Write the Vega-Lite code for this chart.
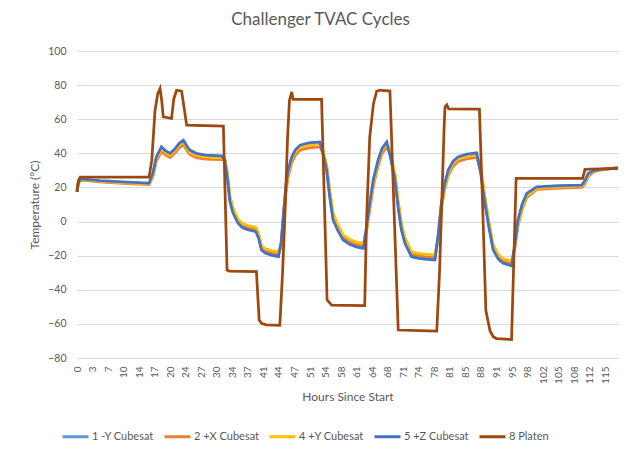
{
  "$schema": "https://vega.github.io/schema/vega-lite/v6.json",
  "width": 541,
  "height": 307,
  "autosize": "none",
  "padding": {"left": 77, "top": 51, "right": 7, "bottom": 93},
  "background": "white",
  "title": {"text": "Challenger TVAC Cycles", "font": "Lato", "fontSize": 17, "fontWeight": "normal", "color": "#595959", "anchor": "middle", "dx": -27, "offset": 17},
  "config": {"view": {"stroke": null}, "font": "Lato"},
  "datasets": {
    "cube": [
      {"h":0,"1 -Y Cubesat":17.5,"2 +X Cubesat":17.5,"4 +Y Cubesat":17.5,"5 +Z Cubesat":17.5},
      {"h":0.3,"1 -Y Cubesat":23,"2 +X Cubesat":22.5,"4 +Y Cubesat":22.8,"5 +Z Cubesat":23},
      {"h":0.8,"1 -Y Cubesat":24.7,"2 +X Cubesat":24.3,"4 +Y Cubesat":24.6,"5 +Z Cubesat":25},
      {"h":5,"1 -Y Cubesat":23.7,"2 +X Cubesat":23.2,"4 +Y Cubesat":23.6,"5 +Z Cubesat":24},
      {"h":10,"1 -Y Cubesat":22.9,"2 +X Cubesat":22.4,"4 +Y Cubesat":22.8,"5 +Z Cubesat":23.2},
      {"h":15.7,"1 -Y Cubesat":22.2,"2 +X Cubesat":21.7,"4 +Y Cubesat":22.1,"5 +Z Cubesat":22.5},
      {"h":16.5,"1 -Y Cubesat":27.5,"2 +X Cubesat":26,"4 +Y Cubesat":26.5,"5 +Z Cubesat":28},
      {"h":17.3,"1 -Y Cubesat":37.3,"2 +X Cubesat":35.5,"4 +Y Cubesat":36.8,"5 +Z Cubesat":38},
      {"h":18.4,"1 -Y Cubesat":43,"2 +X Cubesat":41,"4 +Y Cubesat":42.6,"5 +Z Cubesat":43.8},
      {"h":19.3,"1 -Y Cubesat":40.8,"2 +X Cubesat":39,"4 +Y Cubesat":40.3,"5 +Z Cubesat":41.5},
      {"h":20.3,"1 -Y Cubesat":39.3,"2 +X Cubesat":37.5,"4 +Y Cubesat":38.8,"5 +Z Cubesat":40},
      {"h":21.3,"1 -Y Cubesat":41.8,"2 +X Cubesat":40,"4 +Y Cubesat":41.3,"5 +Z Cubesat":42.5},
      {"h":22.3,"1 -Y Cubesat":45.2,"2 +X Cubesat":43.2,"4 +Y Cubesat":44.8,"5 +Z Cubesat":46},
      {"h":23.2,"1 -Y Cubesat":46.9,"2 +X Cubesat":45,"4 +Y Cubesat":46.5,"5 +Z Cubesat":47.7},
      {"h":24,"1 -Y Cubesat":43.3,"2 +X Cubesat":41.5,"4 +Y Cubesat":42.8,"5 +Z Cubesat":44},
      {"h":24.6,"1 -Y Cubesat":41.1,"2 +X Cubesat":39.3,"4 +Y Cubesat":40.7,"5 +Z Cubesat":41.9},
      {"h":26,"1 -Y Cubesat":39.3,"2 +X Cubesat":37.5,"4 +Y Cubesat":38.8,"5 +Z Cubesat":40},
      {"h":28,"1 -Y Cubesat":38.3,"2 +X Cubesat":36.6,"4 +Y Cubesat":37.8,"5 +Z Cubesat":39},
      {"h":31.5,"1 -Y Cubesat":37.8,"2 +X Cubesat":36.3,"4 +Y Cubesat":37.3,"5 +Z Cubesat":38.5},
      {"h":32.2,"1 -Y Cubesat":35.6,"2 +X Cubesat":36.5,"4 +Y Cubesat":37,"5 +Z Cubesat":36},
      {"h":32.8,"1 -Y Cubesat":25.5,"2 +X Cubesat":27,"4 +Y Cubesat":28,"5 +Z Cubesat":25},
      {"h":33.3,"1 -Y Cubesat":12.8,"2 +X Cubesat":14.5,"4 +Y Cubesat":15.5,"5 +Z Cubesat":12},
      {"h":34,"1 -Y Cubesat":5.6,"2 +X Cubesat":7,"4 +Y Cubesat":8,"5 +Z Cubesat":5},
      {"h":35.1,"1 -Y Cubesat":-0.5,"2 +X Cubesat":0.5,"4 +Y Cubesat":1.5,"5 +Z Cubesat":-1},
      {"h":36,"1 -Y Cubesat":-3,"2 +X Cubesat":-2,"4 +Y Cubesat":-1,"5 +Z Cubesat":-3.5},
      {"h":37,"1 -Y Cubesat":-4.1,"2 +X Cubesat":-3.2,"4 +Y Cubesat":-2.2,"5 +Z Cubesat":-4.6},
      {"h":39,"1 -Y Cubesat":-5.5,"2 +X Cubesat":-4.6,"4 +Y Cubesat":-3.4,"5 +Z Cubesat":-6},
      {"h":39.6,"1 -Y Cubesat":-9.3,"2 +X Cubesat":-8,"4 +Y Cubesat":-7,"5 +Z Cubesat":-10},
      {"h":40.2,"1 -Y Cubesat":-16,"2 +X Cubesat":-15,"4 +Y Cubesat":-14,"5 +Z Cubesat":-16.7},
      {"h":41,"1 -Y Cubesat":-18,"2 +X Cubesat":-17,"4 +Y Cubesat":-16,"5 +Z Cubesat":-18.5},
      {"h":42.5,"1 -Y Cubesat":-19.3,"2 +X Cubesat":-18.3,"4 +Y Cubesat":-17,"5 +Z Cubesat":-19.8},
      {"h":43.9,"1 -Y Cubesat":-20.1,"2 +X Cubesat":-19.1,"4 +Y Cubesat":-17.8,"5 +Z Cubesat":-20.6},
      {"h":44.5,"1 -Y Cubesat":-12.5,"2 +X Cubesat":-14,"4 +Y Cubesat":-13.5,"5 +Z Cubesat":-12},
      {"h":45,"1 -Y Cubesat":4,"2 +X Cubesat":1,"4 +Y Cubesat":2,"5 +Z Cubesat":5},
      {"h":45.5,"1 -Y Cubesat":19.5,"2 +X Cubesat":16,"4 +Y Cubesat":17.5,"5 +Z Cubesat":20.4},
      {"h":46,"1 -Y Cubesat":29,"2 +X Cubesat":26,"4 +Y Cubesat":27.5,"5 +Z Cubesat":30},
      {"h":46.8,"1 -Y Cubesat":37,"2 +X Cubesat":34.5,"4 +Y Cubesat":36.8,"5 +Z Cubesat":38},
      {"h":47.6,"1 -Y Cubesat":41.2,"2 +X Cubesat":39,"4 +Y Cubesat":40.8,"5 +Z Cubesat":42},
      {"h":48.6,"1 -Y Cubesat":44,"2 +X Cubesat":41.8,"4 +Y Cubesat":43.6,"5 +Z Cubesat":44.8},
      {"h":50.5,"1 -Y Cubesat":45.4,"2 +X Cubesat":43.2,"4 +Y Cubesat":45,"5 +Z Cubesat":46.2},
      {"h":52.9,"1 -Y Cubesat":45.9,"2 +X Cubesat":43.8,"4 +Y Cubesat":45.5,"5 +Z Cubesat":46.7},
      {"h":53.6,"1 -Y Cubesat":39.8,"2 +X Cubesat":40.5,"4 +Y Cubesat":41.5,"5 +Z Cubesat":40},
      {"h":54.4,"1 -Y Cubesat":30.8,"2 +X Cubesat":32.5,"4 +Y Cubesat":33.5,"5 +Z Cubesat":30.2},
      {"h":55.1,"1 -Y Cubesat":15,"2 +X Cubesat":17,"4 +Y Cubesat":18,"5 +Z Cubesat":14},
      {"h":55.8,"1 -Y Cubesat":2,"2 +X Cubesat":4,"4 +Y Cubesat":5,"5 +Z Cubesat":1},
      {"h":56.8,"1 -Y Cubesat":-4.3,"2 +X Cubesat":-2.5,"4 +Y Cubesat":-1.5,"5 +Z Cubesat":-5},
      {"h":58,"1 -Y Cubesat":-10.2,"2 +X Cubesat":-9,"4 +Y Cubesat":-7.8,"5 +Z Cubesat":-10.8},
      {"h":59.5,"1 -Y Cubesat":-13,"2 +X Cubesat":-12,"4 +Y Cubesat":-10.6,"5 +Z Cubesat":-13.5},
      {"h":61,"1 -Y Cubesat":-14.5,"2 +X Cubesat":-13.5,"4 +Y Cubesat":-12.2,"5 +Z Cubesat":-15},
      {"h":62.4,"1 -Y Cubesat":-15.2,"2 +X Cubesat":-14.2,"4 +Y Cubesat":-12.8,"5 +Z Cubesat":-15.7},
      {"h":63.1,"1 -Y Cubesat":-3.5,"2 +X Cubesat":-5.5,"4 +Y Cubesat":-5,"5 +Z Cubesat":-3},
      {"h":63.8,"1 -Y Cubesat":9.8,"2 +X Cubesat":7,"4 +Y Cubesat":8,"5 +Z Cubesat":10.7},
      {"h":64.6,"1 -Y Cubesat":24,"2 +X Cubesat":21,"4 +Y Cubesat":22.5,"5 +Z Cubesat":25},
      {"h":65.6,"1 -Y Cubesat":35,"2 +X Cubesat":32.5,"4 +Y Cubesat":34.8,"5 +Z Cubesat":36},
      {"h":66.5,"1 -Y Cubesat":42.2,"2 +X Cubesat":40,"4 +Y Cubesat":41.8,"5 +Z Cubesat":43},
      {"h":67.5,"1 -Y Cubesat":45.9,"2 +X Cubesat":43.8,"4 +Y Cubesat":45.5,"5 +Z Cubesat":46.7},
      {"h":68.3,"1 -Y Cubesat":38,"2 +X Cubesat":39.5,"4 +Y Cubesat":40,"5 +Z Cubesat":38},
      {"h":69.3,"1 -Y Cubesat":25,"2 +X Cubesat":27,"4 +Y Cubesat":28,"5 +Z Cubesat":24.3},
      {"h":70,"1 -Y Cubesat":9,"2 +X Cubesat":11,"4 +Y Cubesat":12,"5 +Z Cubesat":8},
      {"h":70.7,"1 -Y Cubesat":-4.2,"2 +X Cubesat":-2,"4 +Y Cubesat":-1,"5 +Z Cubesat":-5},
      {"h":71.5,"1 -Y Cubesat":-12.3,"2 +X Cubesat":-10.5,"4 +Y Cubesat":-9.5,"5 +Z Cubesat":-13},
      {"h":72.9,"1 -Y Cubesat":-20,"2 +X Cubesat":-18.8,"4 +Y Cubesat":-17.8,"5 +Z Cubesat":-20.6},
      {"h":74.7,"1 -Y Cubesat":-21.2,"2 +X Cubesat":-20.2,"4 +Y Cubesat":-18.8,"5 +Z Cubesat":-21.7},
      {"h":78,"1 -Y Cubesat":-22.1,"2 +X Cubesat":-21.1,"4 +Y Cubesat":-19.6,"5 +Z Cubesat":-22.6},
      {"h":78.7,"1 -Y Cubesat":-8.5,"2 +X Cubesat":-10.5,"4 +Y Cubesat":-10,"5 +Z Cubesat":-8},
      {"h":79.4,"1 -Y Cubesat":9.8,"2 +X Cubesat":7,"4 +Y Cubesat":8,"5 +Z Cubesat":10.7},
      {"h":80.1,"1 -Y Cubesat":21,"2 +X Cubesat":18.5,"4 +Y Cubesat":19.5,"5 +Z Cubesat":22},
      {"h":80.9,"1 -Y Cubesat":29.3,"2 +X Cubesat":27,"4 +Y Cubesat":28,"5 +Z Cubesat":30.2},
      {"h":82,"1 -Y Cubesat":34.7,"2 +X Cubesat":32.5,"4 +Y Cubesat":34.3,"5 +Z Cubesat":35.5},
      {"h":83.1,"1 -Y Cubesat":37.2,"2 +X Cubesat":35.2,"4 +Y Cubesat":36.8,"5 +Z Cubesat":38},
      {"h":85,"1 -Y Cubesat":38.7,"2 +X Cubesat":36.8,"4 +Y Cubesat":38.3,"5 +Z Cubesat":39.5},
      {"h":87.1,"1 -Y Cubesat":39.5,"2 +X Cubesat":37.6,"4 +Y Cubesat":39.1,"5 +Z Cubesat":40.3},
      {"h":88,"1 -Y Cubesat":28.5,"2 +X Cubesat":30,"4 +Y Cubesat":31,"5 +Z Cubesat":28},
      {"h":88.9,"1 -Y Cubesat":11.5,"2 +X Cubesat":13.5,"4 +Y Cubesat":14.5,"5 +Z Cubesat":10.7},
      {"h":89.8,"1 -Y Cubesat":-3.2,"2 +X Cubesat":-1.5,"4 +Y Cubesat":-0.5,"5 +Z Cubesat":-4},
      {"h":90.7,"1 -Y Cubesat":-16,"2 +X Cubesat":-14.5,"4 +Y Cubesat":-13.5,"5 +Z Cubesat":-16.7},
      {"h":91.8,"1 -Y Cubesat":-21.4,"2 +X Cubesat":-20.2,"4 +Y Cubesat":-19.2,"5 +Z Cubesat":-22},
      {"h":92.9,"1 -Y Cubesat":-24,"2 +X Cubesat":-23,"4 +Y Cubesat":-21.8,"5 +Z Cubesat":-24.5},
      {"h":94.7,"1 -Y Cubesat":-25.5,"2 +X Cubesat":-24.5,"4 +Y Cubesat":-23.2,"5 +Z Cubesat":-26},
      {"h":95.4,"1 -Y Cubesat":-14.5,"2 +X Cubesat":-16,"4 +Y Cubesat":-15.5,"5 +Z Cubesat":-14},
      {"h":96.1,"1 -Y Cubesat":0,"2 +X Cubesat":-2.5,"4 +Y Cubesat":-1.5,"5 +Z Cubesat":0.9},
      {"h":97,"1 -Y Cubesat":9.2,"2 +X Cubesat":7,"4 +Y Cubesat":8,"5 +Z Cubesat":10},
      {"h":98,"1 -Y Cubesat":15.8,"2 +X Cubesat":14,"4 +Y Cubesat":15,"5 +Z Cubesat":16.5},
      {"h":100.2,"1 -Y Cubesat":19.9,"2 +X Cubesat":18.8,"4 +Y Cubesat":19.5,"5 +Z Cubesat":20.4},
      {"h":105,"1 -Y Cubesat":20.6,"2 +X Cubesat":19.6,"4 +Y Cubesat":20.3,"5 +Z Cubesat":21},
      {"h":110,"1 -Y Cubesat":21,"2 +X Cubesat":20,"4 +Y Cubesat":20.7,"5 +Z Cubesat":21.4},
      {"h":110.7,"1 -Y Cubesat":23.5,"2 +X Cubesat":22,"4 +Y Cubesat":23,"5 +Z Cubesat":24},
      {"h":111.4,"1 -Y Cubesat":27.7,"2 +X Cubesat":26.5,"4 +Y Cubesat":27.3,"5 +Z Cubesat":28.2},
      {"h":112.5,"1 -Y Cubesat":29.5,"2 +X Cubesat":29,"4 +Y Cubesat":29.4,"5 +Z Cubesat":29.8},
      {"h":114,"1 -Y Cubesat":30.4,"2 +X Cubesat":30.2,"4 +Y Cubesat":30.5,"5 +Z Cubesat":30.6},
      {"h":117.9,"1 -Y Cubesat":31.3,"2 +X Cubesat":31.4,"4 +Y Cubesat":31.8,"5 +Z Cubesat":31.5}
    ],
    "platen": [
      {"h":0,"8 Platen":17.5},{"h":0.3,"8 Platen":24},{"h":0.7,"8 Platen":26},{"h":15.7,"8 Platen":26},
      {"h":16.3,"8 Platen":36},{"h":17,"8 Platen":65},{"h":17.6,"8 Platen":75},{"h":18.1,"8 Platen":78},
      {"h":18.5,"8 Platen":70},{"h":18.8,"8 Platen":61.4},{"h":20.6,"8 Platen":60.5},{"h":21.1,"8 Platen":72},
      {"h":21.7,"8 Platen":77},{"h":22.8,"8 Platen":76.5},{"h":23.9,"8 Platen":56.5},{"h":31.9,"8 Platen":56},
      {"h":32.7,"8 Platen":-28.4},{"h":33.2,"8 Platen":-29},{"h":39.1,"8 Platen":-29.3},{"h":39.7,"8 Platen":-57.7},
      {"h":40.3,"8 Platen":-59.8},{"h":41.3,"8 Platen":-60.6},{"h":44.2,"8 Platen":-60.8},{"h":44.8,"8 Platen":-30},
      {"h":45.4,"8 Platen":10},{"h":45.9,"8 Platen":50},{"h":46.3,"8 Platen":71},{"h":46.8,"8 Platen":76},
      {"h":47.1,"8 Platen":71.6},{"h":53.3,"8 Platen":71.6},{"h":54.5,"8 Platen":-46},{"h":55.5,"8 Platen":-49},
      {"h":62.7,"8 Platen":-49.3},{"h":63.1,"8 Platen":0.9},{"h":63.8,"8 Platen":49.7},{"h":64.6,"8 Platen":69},
      {"h":65.3,"8 Platen":76.4},{"h":66,"8 Platen":77},{"h":68.2,"8 Platen":76.5},{"h":70,"8 Platen":-63.6},
      {"h":74.7,"8 Platen":-64},{"h":78.4,"8 Platen":-64.2},{"h":79,"8 Platen":-30},{"h":79.6,"8 Platen":20},
      {"h":80,"8 Platen":55},{"h":80.2,"8 Platen":67.3},{"h":80.6,"8 Platen":68.5},{"h":81,"8 Platen":66},
      {"h":87.7,"8 Platen":65.9},{"h":88.5,"8 Platen":0.9},{"h":89.1,"8 Platen":-52},{"h":90,"8 Platen":-64},
      {"h":90.7,"8 Platen":-67.5},{"h":91.4,"8 Platen":-68.6},{"h":94.7,"8 Platen":-69.2},{"h":95.7,"8 Platen":25.3},
      {"h":110.2,"8 Platen":25.3},{"h":110.7,"8 Platen":30.6},{"h":112,"8 Platen":30.8},{"h":117.9,"8 Platen":31.2}
    ]
  },
  "encoding": {
    "x": {
      "field": "h", "type": "quantitative",
      "scale": {"domain": [0, 117.9], "nice": false, "zero": false},
      "axis": {
        "title": "Hours Since Start",
        "values": [0, 3.386, 6.772, 10.158, 13.544, 16.93, 20.316, 23.702, 27.088, 30.474, 33.86, 37.246, 40.632, 44.018, 47.404, 50.79, 54.176, 57.562, 60.948, 64.334, 67.72, 71.106, 74.492, 77.878, 81.264, 84.65, 88.036, 91.422, 94.808, 98.194, 101.58, 104.966, 108.352, 111.738, 115.124],
        "format": ".0f",
        "labelAngle": -90,
        "labelFontSize": 10,
        "labelColor": "#595959",
        "labelPadding": 8,
        "labelFlush": false,
        "labelOverlap": false,
        "ticks": false,
        "domain": false,
        "grid": false,
        "titleFontSize": 12,
        "titleFontWeight": "normal",
        "titleColor": "#595959",
        "titlePadding": 8
      }
    },
    "y": {
      "field": "temp", "type": "quantitative",
      "scale": {"domain": [-80, 100], "nice": false},
      "axis": {
        "title": "Temperature (°C)",
        "values": [-80, -60, -40, -20, 0, 20, 40, 60, 80, 100],
        "grid": true,
        "gridColor": "#d9d9d9",
        "ticks": false,
        "domain": false,
        "labelFontSize": 10.5,
        "labelColor": "#595959",
        "labelPadding": 11,
        "titleFontSize": 12,
        "titleFontWeight": "normal",
        "titleColor": "#595959",
        "titlePadding": 6
      }
    },
    "color": {
      "field": "series", "type": "nominal",
      "scale": {
        "domain": ["1 -Y Cubesat", "2 +X Cubesat", "4 +Y Cubesat", "5 +Z Cubesat", "8 Platen"],
        "range": ["#5B9BD5", "#ED7D31", "#FFC000", "#4472C4", "#9E480E"]
      },
      "legend": {
        "title": null,
        "orient": "none",
        "legendX": -16,
        "legendY": 371,
        "direction": "horizontal",
        "columns": 5,
        "symbolType": "stroke",
        "symbolSize": 676,
        "symbolStrokeWidth": 3,
        "labelFontSize": 11,
        "labelColor": "#595959",
        "labelOffset": 2,
        "columnPadding": 4,
        "padding": 0
      }
    }
  },
  "layer": [
    {
      "data": {"name": "cube"},
      "transform": [{"fold": ["1 -Y Cubesat", "2 +X Cubesat", "4 +Y Cubesat", "5 +Z Cubesat"], "as": ["series", "temp"]}],
      "mark": {"type": "line", "strokeWidth": 2.75}
    },
    {
      "data": {"name": "platen"},
      "transform": [{"fold": ["8 Platen"], "as": ["series", "temp"]}],
      "mark": {"type": "line", "strokeWidth": 2.75}
    }
  ]
}
